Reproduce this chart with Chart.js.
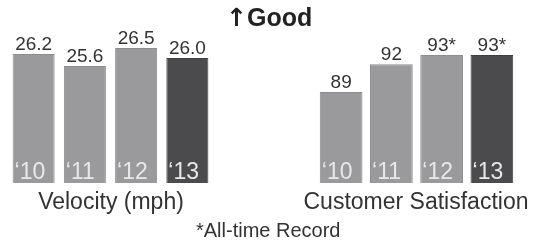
<!DOCTYPE html>
<html lang="en">
<head>
    <meta charset="UTF-8">
    <title>Velocity and Customer Satisfaction</title>
    <script src="https://cdn.jsdelivr.net/npm/chart.js@4.4.0/dist/chart.umd.min.js"></script>
    <style>
        body { margin: 0; background: #fff; font-family: "Liberation Sans", Arial, sans-serif; }
        #wrap { position: relative; width: 536px; height: 244px; overflow: hidden; }
        canvas { position: absolute; top: 0; }
        .txt { position: absolute; color: #333; white-space: nowrap; }
        #title { left: 226px; top: 3px; font-size: 25px; font-weight: bold; color: #222; }
        #title span { font-family: "DejaVu Sans", sans-serif; }
        #lab1 { left: 0; width: 222px; text-align: center; top: 188px; font-size: 23px; }
        #lab2 { left: 298px; width: 236px; text-align: center; top: 188px; font-size: 23px; }
        #note { left: 196px; top: 219px; font-size: 20px; }
    </style>
</head>
<body>
<div id="wrap">
    <canvas id="velChart" width="230" height="244" style="left:0"></canvas>
    <canvas id="satChart" width="270" height="244" style="left:266px"></canvas>
    <div class="txt" id="title"><span>↑</span>Good</div>
    <div class="txt" id="lab1">Velocity (mph)</div>
    <div class="txt" id="lab2">Customer Satisfaction</div>
    <div class="txt" id="note">*All-time Record</div>
</div>

<script>
    // data
    var years = ["\u201810", "\u201811", "\u201812", "\u201813"];
    var velocity = [26.2, 25.6, 26.5, 26.0];
    var satisfaction = [89, 92, 93, 93];
    var satRecord = [false, false, true, true];
    var barColors = ["#9a9a9c", "#9a9a9c", "#9a9a9c", "#4b4b4d"];
    var edgeColors = ["#8c8c8e", "#8c8c8e", "#8c8c8e", "#3f3f41"];

    // draws the value above each bar and the year inside it
    function barText(fmt) {
        return {
            id: "barText",
            afterDraw: function (chart) {
                var ctx = chart.ctx;
                var meta = chart.getDatasetMeta(0);
                var bottom = chart.chartArea.bottom;
                ctx.save();
                meta.data.forEach(function (bar, i) {
                    var p = bar.getProps(["x", "y", "width"], true);
                    ctx.textAlign = "center";
                    ctx.textBaseline = "alphabetic";
                    ctx.fillStyle = "#333";
                    ctx.font = "19px 'Liberation Sans', Arial, sans-serif";
                    ctx.fillText(fmt(i), p.x, p.y - 4);

                    ctx.textAlign = "left";
                    ctx.fillStyle = "#e8e8e8";
                    ctx.font = "23px 'Liberation Sans', Arial, sans-serif";
                    ctx.fillText(years[i], p.x - p.width / 2 + 2, bottom - 4);
                });
                ctx.restore();
            }
        };
    }

    function makeChart(id, values, min, max, pad, barPct, fmt) {
        return new Chart(document.getElementById(id), {
            type: "bar",
            data: {
                labels: years,
                datasets: [{
                    data: values,
                    backgroundColor: barColors,
                    borderColor: edgeColors,
                    borderWidth: 1,
                    categoryPercentage: 1,
                    barPercentage: barPct
                }]
            },
            options: {
                responsive: false,
                animation: false,
                layout: { padding: pad },
                scales: {
                    x: { display: false },
                    y: { display: false, min: min, max: max }
                },
                plugins: {
                    legend: { display: false },
                    tooltip: { enabled: false }
                }
            },
            plugins: [barText(fmt)]
        });
    }

    makeChart("velChart", velocity, 19.75, 27.9,
        { left: 8, right: 17, top: 20, bottom: 61 }, 0.82,
        function (i) { return velocity[i].toFixed(1); });

    makeChart("satChart", satisfaction, 79.15, 96.77,
        { left: 50, right: 19, top: 20, bottom: 61 }, 0.85,
        function (i) { return satisfaction[i] + (satRecord[i] ? "*" : ""); });
</script>
</body>
</html>
